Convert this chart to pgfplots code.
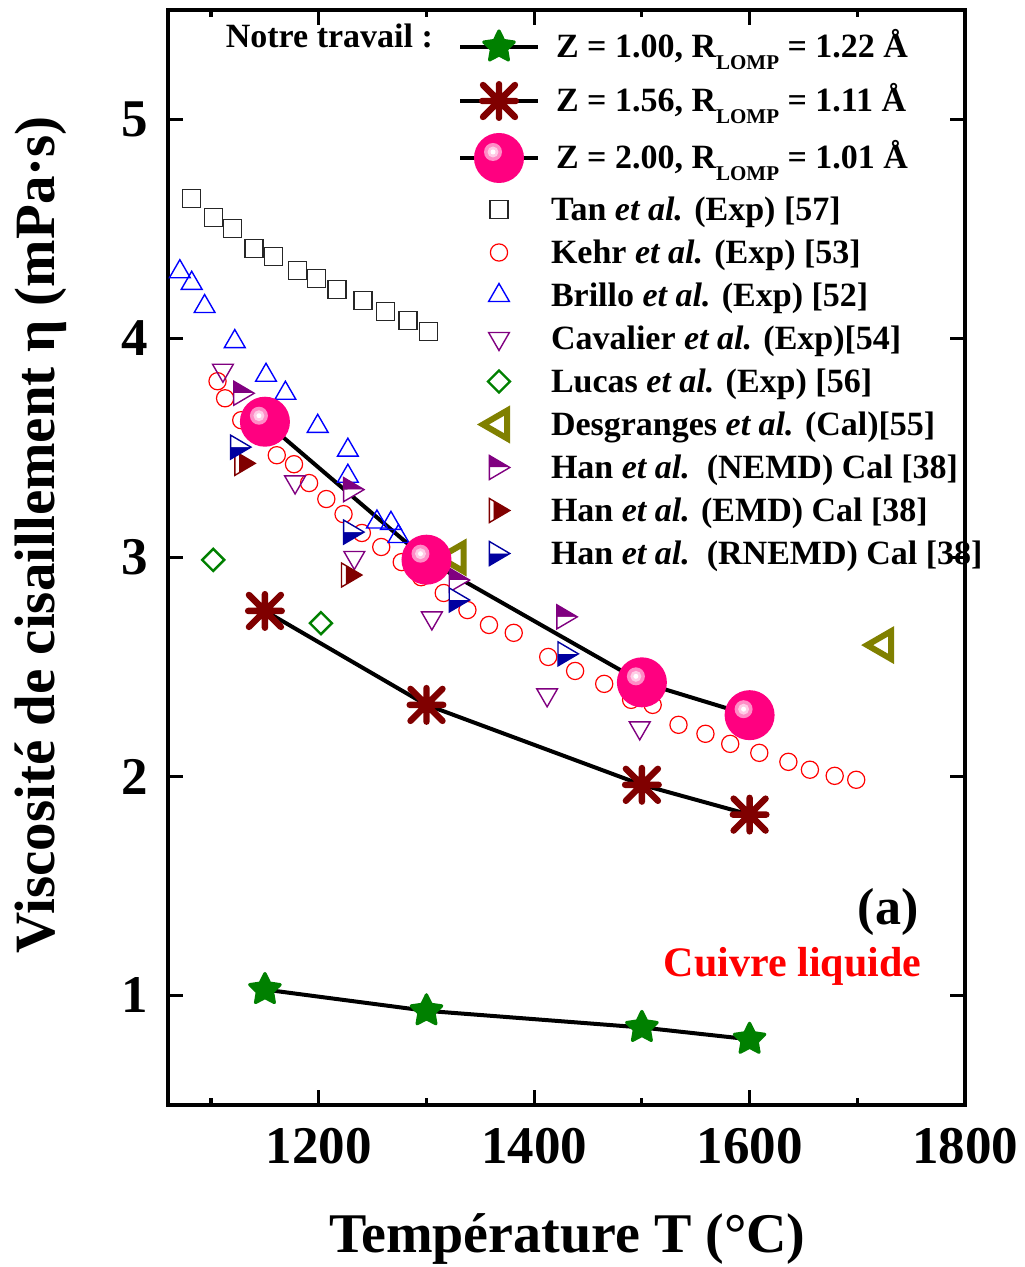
\documentclass[border=0pt]{standalone}
\usepackage{fontspec}
\setmainfont{Liberation Serif}
\usepackage{pgfplots}
\pgfplotsset{compat=1.18}
\usetikzlibrary{plotmarks}

\definecolor{cgreen}{RGB}{0,128,0}
\definecolor{cdred}{RGB}{128,0,0}
\definecolor{cpink}{RGB}{255,0,128}
\definecolor{cpurple}{RGB}{128,0,128}
\definecolor{cnavy}{RGB}{0,0,160}
\definecolor{colive}{RGB}{128,128,0}

% filled five-pointed star
\pgfdeclareplotmark{fstar}{%
  \pgfpathmoveto{\pgfpointpolar{90}{\pgfplotmarksize}}%
  \pgfpathlineto{\pgfpointpolar{126}{0.5\pgfplotmarksize}}%
  \pgfpathlineto{\pgfpointpolar{162}{\pgfplotmarksize}}%
  \pgfpathlineto{\pgfpointpolar{198}{0.5\pgfplotmarksize}}%
  \pgfpathlineto{\pgfpointpolar{234}{\pgfplotmarksize}}%
  \pgfpathlineto{\pgfpointpolar{270}{0.5\pgfplotmarksize}}%
  \pgfpathlineto{\pgfpointpolar{306}{\pgfplotmarksize}}%
  \pgfpathlineto{\pgfpointpolar{342}{0.5\pgfplotmarksize}}%
  \pgfpathlineto{\pgfpointpolar{18}{\pgfplotmarksize}}%
  \pgfpathlineto{\pgfpointpolar{54}{0.5\pgfplotmarksize}}%
  \pgfpathclose
  \pgfusepathqfillstroke}
% eight-ray asterisk
\pgfdeclareplotmark{ast8}{%
  \pgfpathmoveto{\pgfqpoint{-\pgfplotmarksize}{-\pgfplotmarksize}}%
  \pgfpathlineto{\pgfqpoint{\pgfplotmarksize}{\pgfplotmarksize}}%
  \pgfpathmoveto{\pgfqpoint{-\pgfplotmarksize}{\pgfplotmarksize}}%
  \pgfpathlineto{\pgfqpoint{\pgfplotmarksize}{-\pgfplotmarksize}}%
  \pgfpathmoveto{\pgfqpoint{0pt}{-1.05\pgfplotmarksize}}%
  \pgfpathlineto{\pgfqpoint{0pt}{1.05\pgfplotmarksize}}%
  \pgfpathmoveto{\pgfqpoint{-1.05\pgfplotmarksize}{0pt}}%
  \pgfpathlineto{\pgfqpoint{1.05\pgfplotmarksize}{0pt}}%
  \pgfusepathqstroke}
% shiny ball
\pgfdeclareplotmark{pball}{%
  \begin{pgfscope}%
  \pgfpathcircle{\pgfpointorigin}{\pgfplotmarksize}\pgfusepathqfill
  \pgfsetfillcolor{cpink!45!white}%
  \pgfpathcircle{\pgfqpoint{-0.24\pgfplotmarksize}{0.24\pgfplotmarksize}}{0.36\pgfplotmarksize}\pgfusepathqfill
  \pgfsetfillcolor{cpink!20!white}%
  \pgfpathcircle{\pgfqpoint{-0.24\pgfplotmarksize}{0.24\pgfplotmarksize}}{0.22\pgfplotmarksize}\pgfusepathqfill
  \pgfsetfillcolor{white}%
  \pgfpathcircle{\pgfqpoint{-0.24\pgfplotmarksize}{0.24\pgfplotmarksize}}{0.1\pgfplotmarksize}\pgfusepathqfill
  \end{pgfscope}}
% right-pointing triangles, half filled
\pgfdeclareplotmark{htritop}{%
  \begin{pgfscope}%
  \pgfpathmoveto{\pgfqpoint{-0.8\pgfplotmarksize}{\pgfplotmarksize}}%
  \pgfpathlineto{\pgfqpoint{0.9\pgfplotmarksize}{0pt}}%
  \pgfpathlineto{\pgfqpoint{-0.8\pgfplotmarksize}{0pt}}%
  \pgfpathclose\pgfusepathqfill
  \pgfsetfillcolor{white}%
  \pgfpathmoveto{\pgfqpoint{-0.8\pgfplotmarksize}{0pt}}%
  \pgfpathlineto{\pgfqpoint{0.9\pgfplotmarksize}{0pt}}%
  \pgfpathlineto{\pgfqpoint{-0.8\pgfplotmarksize}{-\pgfplotmarksize}}%
  \pgfpathclose\pgfusepathqfill
  \pgfpathmoveto{\pgfqpoint{-0.8\pgfplotmarksize}{\pgfplotmarksize}}%
  \pgfpathlineto{\pgfqpoint{0.9\pgfplotmarksize}{0pt}}%
  \pgfpathlineto{\pgfqpoint{-0.8\pgfplotmarksize}{-\pgfplotmarksize}}%
  \pgfpathclose\pgfusepathqstroke
  \end{pgfscope}}
\pgfdeclareplotmark{htribot}{%
  \begin{pgfscope}%
  \pgfpathmoveto{\pgfqpoint{-0.8\pgfplotmarksize}{0pt}}%
  \pgfpathlineto{\pgfqpoint{0.9\pgfplotmarksize}{0pt}}%
  \pgfpathlineto{\pgfqpoint{-0.8\pgfplotmarksize}{-\pgfplotmarksize}}%
  \pgfpathclose\pgfusepathqfill
  \pgfsetfillcolor{white}%
  \pgfpathmoveto{\pgfqpoint{-0.8\pgfplotmarksize}{\pgfplotmarksize}}%
  \pgfpathlineto{\pgfqpoint{0.9\pgfplotmarksize}{0pt}}%
  \pgfpathlineto{\pgfqpoint{-0.8\pgfplotmarksize}{0pt}}%
  \pgfpathclose\pgfusepathqfill
  \pgfpathmoveto{\pgfqpoint{-0.8\pgfplotmarksize}{\pgfplotmarksize}}%
  \pgfpathlineto{\pgfqpoint{0.9\pgfplotmarksize}{0pt}}%
  \pgfpathlineto{\pgfqpoint{-0.8\pgfplotmarksize}{-\pgfplotmarksize}}%
  \pgfpathclose\pgfusepathqstroke
  \end{pgfscope}}
\pgfdeclareplotmark{htriright}{%
  \begin{pgfscope}%
  \pgfpathmoveto{\pgfqpoint{-0.46\pgfplotmarksize}{0.8\pgfplotmarksize}}%
  \pgfpathlineto{\pgfqpoint{0.9\pgfplotmarksize}{0pt}}%
  \pgfpathlineto{\pgfqpoint{-0.46\pgfplotmarksize}{-0.8\pgfplotmarksize}}%
  \pgfpathclose\pgfusepathqfill
  \pgfsetfillcolor{white}%
  \pgfpathmoveto{\pgfqpoint{-0.8\pgfplotmarksize}{\pgfplotmarksize}}%
  \pgfpathlineto{\pgfqpoint{-0.46\pgfplotmarksize}{0.8\pgfplotmarksize}}%
  \pgfpathlineto{\pgfqpoint{-0.46\pgfplotmarksize}{-0.8\pgfplotmarksize}}%
  \pgfpathlineto{\pgfqpoint{-0.8\pgfplotmarksize}{-\pgfplotmarksize}}%
  \pgfpathclose\pgfusepathqfill
  \pgfpathmoveto{\pgfqpoint{-0.8\pgfplotmarksize}{\pgfplotmarksize}}%
  \pgfpathlineto{\pgfqpoint{0.9\pgfplotmarksize}{0pt}}%
  \pgfpathlineto{\pgfqpoint{-0.8\pgfplotmarksize}{-\pgfplotmarksize}}%
  \pgfpathclose\pgfusepathqstroke
  \end{pgfscope}}

\newcommand{\lomp}{\raisebox{-6pt}{\fontsize{10.5}{10.5}\selectfont LOMP}}
\newcommand{\zs}{\rule[-8pt]{0pt}{27pt}}
\newcommand{\zt}{\rule[-9.5pt]{0pt}{30pt}}
\newcommand{\ns}{\rule[-5.15pt]{0pt}{21.5pt}}

\pgfplotsset{
  lleg/.style={legend image code/.code={%
      \draw[##1, mark=none] (-19.5pt,0pt) -- (19.5pt,0pt);
      \draw[##1, only marks] plot coordinates {(0pt,0pt)};}},
  mleg/.style={legend image code/.code={%
      \path (-19.5pt,0pt) (19.5pt,0pt);
      \draw[##1, only marks] plot coordinates {(0pt,0pt)};}},
  sStar/.style={black, line width=2pt, mark=fstar, mark size=8pt,
      mark options={draw=cgreen, fill=cgreen, line width=1.6pt, line join=round}},
  sAst/.style={black, line width=2pt, mark=ast8, mark size=8pt,
      mark options={draw=cdred, line width=3.2pt, line cap=round}},
  sBall/.style={black, line width=2pt, mark=pball, mark size=12.5pt,
      mark options={fill=cpink, draw=none}},
  sTan/.style={only marks, mark=square, mark size=4.5pt,
      mark options={draw=black!85, line width=0.7pt}},
  sKehr/.style={only marks, mark=o, mark size=4.3pt,
      mark options={draw=red, line width=0.6pt}},
  sBrillo/.style={only marks, mark=triangle, mark size=6pt,
      mark options={draw=blue, line width=0.7pt}},
  sCav/.style={only marks, mark=triangle, mark size=6pt,
      mark options={draw=cpurple, line width=0.7pt, rotate=180}},
  sLucas/.style={only marks, mark=square, mark size=3.9pt,
      mark options={draw=cgreen, line width=1.2pt, rotate=45}},
  sDes/.style={only marks, mark=triangle*, mark size=8pt,
      mark options={draw=colive, fill=white, line width=3pt, rotate=90}},
  sNEMD/.style={only marks, mark=htritop, mark size=6pt,
      mark options={draw=cpurple, fill=cpurple, line width=0.7pt}},
  sEMD/.style={only marks, mark=htriright, mark size=6pt,
      mark options={draw=cdred, fill=cdred, line width=0.7pt}},
  sRNEMD/.style={only marks, mark=htribot, mark size=6pt,
      mark options={draw=cnavy, fill=cnavy, line width=0.7pt}},
}

\begin{document}
\begin{tikzpicture}
\begin{axis}[name=ax,
  scale only axis, width=398.5pt, height=547.5pt,
  xmin=1060, xmax=1800, ymin=0.5, ymax=5.5,
  xtick={1200,1400,1600,1800}, minor xtick={1100,1300,1500,1700},
  ytick={1,2,3,4,5},
  tick align=inside, major tick length=7.5pt, minor tick length=3.5pt,
  axis line style={line width=1.6pt},
  every tick/.append style={line width=1.6pt, black},
  /pgf/number format/assume math mode=true,
  /pgf/number format/set thousands separator={},
  ticklabel style={font=\fontsize{26.5}{26.5}\selectfont\bfseries},
  xticklabel style={inner sep=0pt, anchor=north, yshift=-11.5pt},
  yticklabel style={inner sep=0pt, anchor=east, xshift=-10pt},
  xlabel={Température T (°C)},
  ylabel={Viscosité de cisaillement η (mPa·s)},
  every axis x label/.style={at={(rel axis cs:0.501,-0.1345)}, anchor=base,
     font=\fontsize{28}{30}\selectfont\bfseries},
  every axis y label/.style={at={(rel axis cs:-0.1418,0.5205)}, anchor=base, rotate=90,
     font=\fontsize{28.5}{30}\selectfont\bfseries},
  legend cell align=left,
  legend style={at={(0.36386,0.99087)}, anchor=north west, draw=none, fill=none,
     inner sep=0pt, outer sep=0pt, row sep=0pt, column sep=5.5pt,
     nodes={inner sep=0pt, outer sep=0pt, text depth=},
     font=\fontsize{17}{18}\selectfont\bfseries},
]
% ---------- legend ----------
\addlegendimage{sStar, lleg}
\addlegendentry{\zs\hspace{2.5pt}Z = 1.00, R\lomp\ = 1.22 Å}
\addlegendimage{sAst, lleg}
\addlegendentry{\zs\hspace{2.5pt}Z = 1.56, R\lomp\ = 1.11 Å}
\addlegendimage{sBall, lleg}
\addlegendentry{\zt\hspace{2.5pt}Z = 2.00, R\lomp\ = 1.01 Å}
\addlegendimage{sTan, mleg}
\addlegendentry{\ns Tan \textit{et al.} (Exp) [57]}
\addlegendimage{sKehr, mleg}
\addlegendentry{\ns Kehr \textit{et al.} (Exp) [53]}
\addlegendimage{sBrillo, mleg}
\addlegendentry{\ns Brillo \textit{et al.} (Exp) [52]}
\addlegendimage{sCav, mleg}
\addlegendentry{\ns Cavalier \textit{et al.} (Exp)[54]}
\addlegendimage{sLucas, mleg}
\addlegendentry{\ns Lucas \textit{et al.} (Exp) [56]}
\addlegendimage{sDes, mleg}
\addlegendentry{\ns Desgranges \textit{et al.} (Cal)[55]}
\addlegendimage{sNEMD, mleg}
\addlegendentry{\ns Han \textit{et al.}\ \ (NEMD) Cal [38]}
\addlegendimage{sEMD, mleg}
\addlegendentry{\ns Han \textit{et al.} (EMD) Cal [38]}
\addlegendimage{sRNEMD, mleg}
\addlegendentry{\ns Han \textit{et al.}\ \ (RNEMD) Cal [38]}

% ---------- literature data ----------
% Tan et al. (Exp)
\addplot[sTan, forget plot] coordinates {
 (1082,4.640) (1102,4.553) (1120,4.503) (1140,4.412) (1158,4.375) (1180,4.311)
 (1198,4.275) (1217,4.225) (1241,4.174) (1262,4.124) (1283,4.083) (1302,4.033)};
% Kehr et al. (Exp)
\addplot[sKehr, forget plot] coordinates {
 (1106,3.805) (1113,3.727) (1128,3.627) (1161,3.467) (1177,3.426) (1191,3.340)
 (1207,3.267) (1223,3.198) (1240,3.112) (1258,3.048) (1277,2.979) (1295,2.910)
 (1316,2.838) (1338,2.760) (1358,2.692) (1381,2.656) (1413,2.546) (1438,2.482)
 (1465,2.423) (1490,2.350) (1510,2.327) (1534,2.236) (1559,2.195) (1582,2.149)
 (1609,2.108) (1636,2.067) (1656,2.031) (1679,2.003) (1699,1.985)};
% Brillo et al. (Exp)
\addplot[sBrillo, forget plot] coordinates {
 (1071,4.305) (1082,4.252) (1094,4.146) (1122,3.986) (1151,3.832) (1169,3.750)
 (1199,3.599) (1227,3.490) (1227,3.371) (1254,3.162) (1267,3.156) (1274,3.096)};
% Cavalier et al. (Exp)
\addplot[sCav, forget plot] coordinates {
 (1111,3.855) (1178,3.345) (1233,3.000) (1305,2.724) (1412,2.373) (1498,2.222)};
% Lucas et al. (Exp)
\addplot[sLucas, forget plot] coordinates {(1102,2.989) (1202,2.700)};
% Desgranges et al. (Cal)
\addplot[sDes, forget plot] coordinates {(1327,3.000) (1724,2.600)};
% Han et al. NEMD
\addplot[sNEMD, forget plot] coordinates {
 (1130,3.750) (1232,3.310) (1330,2.897) (1430,2.729)};
% Han et al. EMD
\addplot[sEMD, forget plot] coordinates {(1131,3.430) (1230,2.920)};
% Han et al. RNEMD
\addplot[sRNEMD, forget plot] coordinates {
 (1127,3.504) (1232,3.116) (1330,2.806) (1431,2.560)};

% ---------- this work ----------
\addplot[sStar, forget plot] coordinates {
 (1150,1.027) (1300,0.930) (1500,0.854) (1600,0.800)};
\addplot[sAst, forget plot] coordinates {
 (1150,2.756) (1300,2.327) (1500,1.962) (1600,1.826)};
\addplot[sBall, forget plot] coordinates {
 (1150,3.620) (1300,2.990) (1500,2.430) (1600,2.280)};

% ---------- texts ----------
\node[anchor=base east, font=\fontsize{17}{18}\selectfont\bfseries]
  at (rel axis cs:0.3413,0.9653) {Notre travail :};
\node[anchor=base, font=\fontsize{26}{28}\selectfont\bfseries]
  at (rel axis cs:0.9034,0.1644) {(a)};
\node[anchor=base, text=red, font=\fontsize{21}{23}\selectfont\bfseries]
  at (rel axis cs:0.7836,0.1169) {Cuivre liquide};
\end{axis}
\pgfresetboundingbox
\path ([shift={(-84pt,-81pt)}]ax.south west) rectangle ([shift={(29.5pt,5pt)}]ax.north east);
\end{tikzpicture}
\end{document}
